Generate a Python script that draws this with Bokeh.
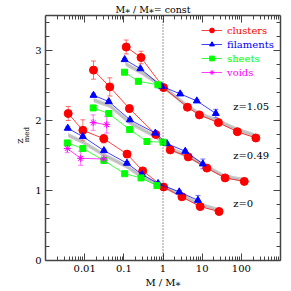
import numpy as np
from bokeh.plotting import figure
from bokeh.models import (Range1d, FixedTicker, LogAxis, LinearAxis, CustomJSTickFormatter,
                          Span, Label, Whisker, ColumnDataSource, Legend, LegendItem, TeeHead)
from bokeh.embed import file_html
from bokeh.resources import INLINE

# ---------------- data ----------------
# clusters
cl_hi_x = [0.115, 0.275, 1.03, 4.2, 8.5, 26, 79, 235]
cl_hi_y = [3.05, 2.90, 2.47, 2.19, 2.08, 1.97, 1.84, 1.75]
cl_hi_e = [0.10, 0.09, 0.02, 0.02, 0.02, 0.02, 0.02, 0.02]
cl_mid_x = [0.0168, 0.0438, 0.139, 0.656, 1.53, 4.4, 13.2, 38.5, 119]
cl_mid_y = [2.72, 2.48, 2.17, 1.80, 1.58, 1.48, 1.32, 1.18, 1.13]
cl_mid_e = [0.13, 0.13, 0.05, 0.03, 0.02, 0.02, 0.02, 0.02, 0.03]
cl_lo_x = [0.0038, 0.009, 0.0308, 0.121, 0.303, 1.035, 3.04, 8.9, 27]
cl_lo_y = [2.10, 1.86, 1.74, 1.52, 1.28, 1.05, 0.91, 0.77, 0.70]
cl_lo_e = [0.10, 0.15, 0.06, 0.04, 0.02, 0.02, 0.02, 0.02, 0.02]
# filaments
fi_hi_x = [0.105, 0.264, 0.92, 2.75, 7.3, 22.3]
fi_hi_y = [2.87, 2.74, 2.49, 2.38, 2.28, 2.10]
fi_hi_e = [0.02, 0.02, 0.02, 0.02, 0.02, 0.06]
fi_mid_x = [0.0168, 0.0413, 0.143, 0.637, 1.26, 3.7, 10.4]
fi_mid_y = [2.36, 2.27, 2.01, 1.82, 1.67, 1.56, 1.38]
fi_mid_e = [0.02, 0.02, 0.02, 0.02, 0.02, 0.02, 0.07]
fi_lo_x = [0.0037, 0.009, 0.031, 0.12, 0.29, 0.75, 2.6, 7.8]
fi_lo_y = [1.89, 1.77, 1.57, 1.39, 1.23, 1.10, 0.98, 0.86]
fi_lo_e = [0.02, 0.02, 0.02, 0.02, 0.02, 0.02, 0.02, 0.07]
# sheets
sh_hi_x = [0.104, 0.235, 0.74]
sh_hi_y = [2.69, 2.56, 2.51]
sh_hi_e = [0.02, 0.04, 0.03]
sh_mid_x = [0.0165, 0.0413, 0.141, 0.39, 1.0]
sh_mid_y = [2.18, 2.10, 1.87, 1.70, 1.69]
sh_mid_e = [0.02, 0.03, 0.02, 0.02, 0.03]
sh_lo_x = [0.0036, 0.009, 0.031, 0.105, 0.275, 0.70]
sh_lo_y = [1.68, 1.60, 1.43, 1.24, 1.18, 1.07]
sh_lo_e = [0.02, 0.02, 0.03, 0.02, 0.02, 0.03]
# voids
vo_mid_x = [0.0165, 0.0365]
vo_mid_y = [1.97, 1.94]
vo_mid_e = [0.11, 0.12]
vo_lo_x = [0.0036, 0.0079, 0.031]
vo_lo_y = [1.60, 1.46, 1.45]
vo_lo_e = [0.06, 0.10, 0.05]
# model bands (grey)
band_hi_x = [0.11, 0.27, 1.0, 4.2, 8.5, 26, 79, 240]
band_hi_y = [2.81, 2.69, 2.48, 2.21, 2.10, 1.99, 1.87, 1.78]
band_mid_x = [0.017, 0.044, 0.14, 0.65, 1.5, 4.4, 13, 38, 120]
band_mid_y = [2.29, 2.21, 1.97, 1.77, 1.60, 1.49, 1.34, 1.20, 1.15]
band_lo_x = [0.0038, 0.009, 0.031, 0.12, 0.3, 1.0, 3.0, 9.0, 27]
band_lo_y = [1.79, 1.69, 1.51, 1.34, 1.19, 1.06, 0.93, 0.80, 0.72]
band_halfwidth = 0.03

x_ticks = [0.01, 0.1, 1, 10, 100]
y_ticks = [0, 1, 2, 3]
redshift_labels = ["z=1.05", "z=0.49", "z=0"]
redshift_label_y = [2.2, 1.5, 0.81]
series_names = ["clusters", "filaments", "sheets", "voids"]

FONT = "DejaVu Serif"
RED, BLUE, GREEN, MAG = "#ff0000", "#0000ff", "#00ff00", "#ff00ff"
NB = "\u00a0"

p = figure(width=291, height=291, x_axis_type="log",
           x_range=Range1d(0.001, 1000), y_range=Range1d(0, 3.5),
           output_backend="svg", toolbar_location=None,
           min_border_left=45, min_border_right=11, min_border_top=15, min_border_bottom=31)
p.background_fill_color = "white"
p.border_fill_color = None
p.outline_line_color = None
p.xgrid.visible = False
p.ygrid.visible = False

p.title.text = "M\u204e / M\u204e= const"
p.title.text_font = FONT
p.title.text_font_size = "9.5px"
p.title.text_font_style = "normal"
p.title.text_color = "black"
p.title.align = "left"
p.title.offset = 70
p.title.standoff = 1

minor_x = [m * 10.0 ** d for d in range(-3, 3) for m in range(2, 10)]
minor_y = [v / 5 for v in range(0, 18)]
xt = FixedTicker(ticks=x_ticks, minor_ticks=minor_x)
yt = FixedTicker(ticks=y_ticks, minor_ticks=minor_y)
fmt = CustomJSTickFormatter(code="return tick >= 1 ? tick.toFixed(0) : String(tick);")
blank = CustomJSTickFormatter(code="return '';")

def style_axis(ax, labels=True):
    ax.axis_line_color = "#444444"
    ax.axis_line_width = 1.5
    ax.major_tick_line_color = "#444444"
    ax.minor_tick_line_color = "#444444"
    ax.major_tick_in = 7
    ax.major_tick_out = 0
    ax.minor_tick_in = 4
    ax.minor_tick_out = 0
    if labels:
        ax.major_label_text_font = FONT
        ax.major_label_text_font_size = "10px"
        ax.major_label_text_color = "black"
        ax.major_label_standoff = 4
        ax.axis_label_text_font = FONT
        ax.axis_label_text_font_size = "10px"
        ax.axis_label_text_font_style = "normal"
        ax.axis_label_text_color = "black"
        ax.axis_label_standoff = 2
    else:
        ax.formatter = blank
        ax.major_label_text_font_size = "1px"
        ax.major_label_standoff = 0

p.xaxis.ticker = xt
p.xaxis.formatter = fmt
p.yaxis.ticker = yt
style_axis(p.xaxis[0])
style_axis(p.yaxis[0])
p.xaxis.axis_label = "M / M\u204e"
# y label "z_med": subscript on the inner axis, the "z" on an outer bare axis
p.yaxis.axis_label = NB * 3 + "med"
p.yaxis.axis_label_text_font_size = "7px"
p.yaxis.axis_label_standoff = 1
top_ax = LogAxis(ticker=xt)
right_ax = LinearAxis(ticker=yt)
style_axis(top_ax, labels=False)
style_axis(right_ax, labels=False)
p.add_layout(top_ax, "above")
p.add_layout(right_ax, "right")

outer = LinearAxis(ticker=yt, formatter=blank, major_label_text_font_size="1px",
                   major_label_standoff=0, axis_line_color=None,
                   major_tick_line_color=None, minor_tick_line_color=None,
                   major_tick_in=0, major_tick_out=0, minor_tick_in=0, minor_tick_out=0,
                   axis_label="z" + NB * 2, axis_label_text_font=FONT,
                   axis_label_text_font_size="10px", axis_label_text_font_style="normal",
                   axis_label_text_color="black", axis_label_standoff=-4)
p.add_layout(outer, "left")

# grey model bands
for bx, by in [(band_hi_x, band_hi_y), (band_mid_x, band_mid_y), (band_lo_x, band_lo_y)]:
    lo = [v - band_halfwidth for v in by]
    hi = [v + band_halfwidth for v in by]
    p.varea(x=bx, y1=lo, y2=hi, fill_color="#9a9a9a", fill_alpha=0.55)
    p.line(bx, by, line_color="#bbbbbb", line_width=1)

p.add_layout(Span(location=1, dimension="height", line_color="black",
                  line_dash="1 2", line_width=0.8))

def series(groups, color, marker, size):
    first = None
    for gx, gy, ge in groups:
        src = ColumnDataSource(dict(x=gx, y=gy, lo=[a - b for a, b in zip(gy, ge)],
                                    hi=[a + b for a, b in zip(gy, ge)]))
        w = Whisker(source=src, base="x", upper="hi", lower="lo", line_color=color,
                    line_alpha=0.55, line_width=1,
                    upper_head=TeeHead(size=5, line_color=color, line_alpha=0.55),
                    lower_head=TeeHead(size=5, line_color=color, line_alpha=0.55))
        p.add_layout(w)
        rl = p.line("x", "y", source=src, line_color=color, line_width=1, line_alpha=0.75)
        rs = p.scatter("x", "y", source=src, marker=marker, size=size,
                       fill_color=color, line_color=color)
        if first is None:
            first = [rl, rs]
    return first

r_cl = series([(cl_hi_x, cl_hi_y, cl_hi_e), (cl_mid_x, cl_mid_y, cl_mid_e),
               (cl_lo_x, cl_lo_y, cl_lo_e)], RED, "circle", 8)
r_fi = series([(fi_hi_x, fi_hi_y, fi_hi_e), (fi_mid_x, fi_mid_y, fi_mid_e),
               (fi_lo_x, fi_lo_y, fi_lo_e)], BLUE, "triangle", 7)
r_sh = series([(sh_hi_x, sh_hi_y, sh_hi_e), (sh_mid_x, sh_mid_y, sh_mid_e),
               (sh_lo_x, sh_lo_y, sh_lo_e)], GREEN, "square", 6)
r_vo = series([(vo_mid_x, vo_mid_y, vo_mid_e), (vo_lo_x, vo_lo_y, vo_lo_e)],
              MAG, "asterisk", 7)

# legends (one per entry so each label can be coloured)
for i, (name, rends, col) in enumerate(zip(series_names, [r_cl, r_fi, r_sh, r_vo],
                                           [RED, BLUE, GREEN, MAG])):
    lg = Legend(items=[LegendItem(label=name, renderers=rends)],
                location=(156, 224 - 14 * i), orientation="vertical",
                background_fill_alpha=0, border_line_color=None,
                padding=0, margin=0, spacing=0,
                glyph_width=21, glyph_height=12, label_height=12,
                label_standoff=5, label_text_font=FONT,
                label_text_font_size="10px", label_text_color=col)
    p.add_layout(lg, "center")

for txt, yy in zip(redshift_labels, redshift_label_y):
    p.add_layout(Label(x=62, y=yy, text=txt, text_font=FONT, text_font_size="10px",
                       text_baseline="middle", text_align="left", text_color="black"))

open("out.html", "w").write(file_html(p, INLINE))
